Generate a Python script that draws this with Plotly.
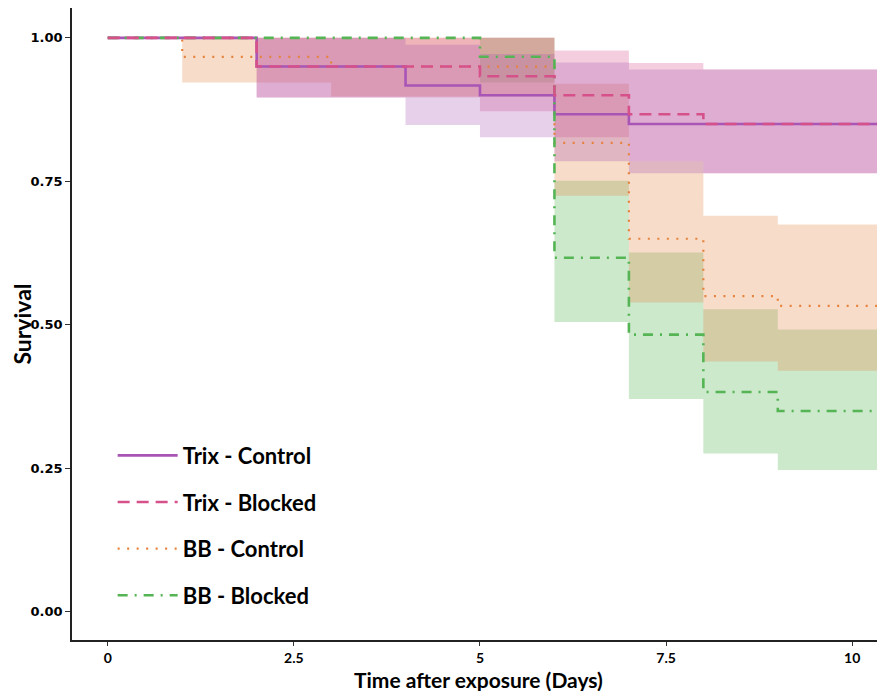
import plotly.graph_objects as go

# Interval start days (step function changes at these times)
days = [0, 1, 2, 3, 4, 5, 6, 7, 8, 9]
t_end = 10.5

groups = ["Trix - Control", "Trix - Blocked", "BB - Control", "BB - Blocked"]

trix_control = [1.0, 1.0, 0.95, 0.95, 0.917, 0.90, 0.867, 0.85, 0.85, 0.85]
trix_control_lo = [1.0, 1.0, 0.896, 0.896, 0.848, 0.827, 0.785, 0.764, 0.764, 0.764]
trix_control_hi = [1.0, 1.0, 1.0, 1.0, 0.988, 0.972, 0.957, 0.945, 0.945, 0.945]

trix_blocked = [1.0, 1.0, 0.95, 0.95, 0.95, 0.933, 0.90, 0.867, 0.85, 0.85]
trix_blocked_lo = [1.0, 1.0, 0.896, 0.896, 0.896, 0.872, 0.827, 0.785, 0.764, 0.764]
trix_blocked_hi = [1.0, 1.0, 1.0, 1.0, 1.0, 1.0, 0.978, 0.956, 0.945, 0.945]

bb_control = [1.0, 0.967, 0.967, 0.95, 0.95, 0.95, 0.817, 0.65, 0.55, 0.533]
bb_control_lo = [1.0, 0.922, 0.922, 0.898, 0.898, 0.898, 0.725, 0.539, 0.436, 0.42]
bb_control_hi = [1.0, 1.0, 1.0, 1.0, 1.0, 1.0, 0.92, 0.785, 0.690, 0.675]

bb_blocked = [1.0, 1.0, 1.0, 1.0, 1.0, 0.967, 0.617, 0.483, 0.383, 0.35]
bb_blocked_lo = [1.0, 1.0, 1.0, 1.0, 1.0, 0.922, 0.505, 0.371, 0.276, 0.247]
bb_blocked_hi = [1.0, 1.0, 1.0, 1.0, 1.0, 1.0, 0.751, 0.626, 0.527, 0.492]

x_ticks = [0, 2.5, 5, 7.5, 10]
x_ticklabels = ["0", "2.5", "5", "7.5", "10"]
y_ticks = [0, 0.25, 0.5, 0.75, 1.0]
y_ticklabels = ["0.00", "0.25", "0.50", "0.75", "1.00"]

x_title = "Time after exposure (Days)"
y_title = "Survival"

series = {
    "Trix - Control": (trix_control, trix_control_lo, trix_control_hi,
                       "#a855b5", "rgba(168,85,181,0.28)", "solid", 1),
    "Trix - Blocked": (trix_blocked, trix_blocked_lo, trix_blocked_hi,
                       "#d6508a", "rgba(214,80,138,0.28)", "12px,7px", 2),
    "BB - Control": (bb_control, bb_control_lo, bb_control_hi,
                     "#e6823c", "rgba(230,140,75,0.30)", "2px,7.5px", 3),
    "BB - Blocked": (bb_blocked, bb_blocked_lo, bb_blocked_hi,
                     "#55b555", "rgba(85,181,85,0.30)", "10px,7px,2px,7px", 4),
}

xs = days + [t_end]


def ext(v):
    return v + [v[-1]]


fig = go.Figure()

# confidence bands
for name in ["BB - Blocked", "BB - Control", "Trix - Blocked", "Trix - Control"]:
    est, lo, hi, col, fcol, dash, rank = series[name]
    fig.add_trace(go.Scatter(x=xs, y=ext(lo), mode="lines", line=dict(width=0, shape="hv"),
                             showlegend=False, hoverinfo="skip"))
    fig.add_trace(go.Scatter(x=xs, y=ext(hi), mode="lines", line=dict(width=0, shape="hv"),
                             fill="tonexty", fillcolor=fcol, showlegend=False, hoverinfo="skip"))

# survival step lines
for name in ["BB - Control", "Trix - Control", "BB - Blocked", "Trix - Blocked"]:
    est, lo, hi, col, fcol, dash, rank = series[name]
    fig.add_trace(go.Scatter(x=xs, y=ext(est), mode="lines", name=name,
                             line=dict(color=col, width=2.6 if name != "BB - Control" else 2.2,
                                       dash=dash, shape="hv"),
                             legendrank=rank, legendgroup=name))

# page body adds an 8px offset, so the figure is sized to fill the rest of the window
fig.update_layout(
    width=877, height=683,
    margin=dict(l=64, r=0, t=0, b=51),
    paper_bgcolor="white", plot_bgcolor="white",
    showlegend=True,
    legend=dict(x=0.05, y=0.325, xanchor="left", yanchor="top",
                traceorder="grouped", tracegroupgap=15,
                font=dict(family="Lato", size=22, color="black", weight="bold"),
                bgcolor="rgba(0,0,0,0)", itemwidth=60),
    xaxis=dict(range=[-0.48, 10.44], tickvals=x_ticks, ticktext=x_ticklabels,
               ticks="outside", ticklen=4, tickwidth=1.2, tickcolor="#333",
               showline=True, linecolor="#222", linewidth=1.5,
               showgrid=False, zeroline=False, automargin=False,
               tickfont=dict(family="Lato", size=14, color="black", weight="bold")),
    yaxis=dict(range=[-0.049, 1.052], tickvals=y_ticks, ticktext=y_ticklabels,
               ticks="outside", ticklen=5, tickwidth=1.2, tickcolor="#333",
               showline=True, linecolor="#222", linewidth=1.5,
               showgrid=False, zeroline=False, automargin=False,
               tickfont=dict(family="DejaVu Sans", size=13, color="black", weight="bold"),
               title=dict(text=y_title, standoff=2,
                          font=dict(family="Lato", size=23, color="black", weight="bold"))),
    annotations=[dict(text=x_title, xref="paper", yref="paper", x=0.5, y=-0.062,
                      xanchor="center", yanchor="middle", showarrow=False,
                      font=dict(family="Lato", size=21, color="black", weight="bold"))],
)

fig.write_html("out.html")
